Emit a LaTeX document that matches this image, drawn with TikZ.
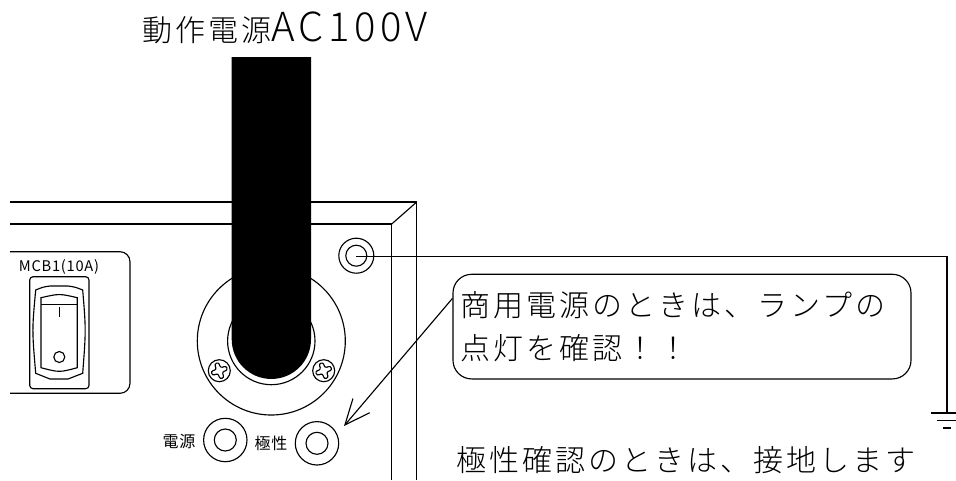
\documentclass[tikz,border=0pt]{standalone}
\usepackage{fontspec}
\usetikzlibrary{arrows.meta,positioning,calc}
\newfontfamily\jpfont[LetterSpace=10]{Noto Sans CJK JP Light}
\newfontfamily\jplatin[LetterSpace=11.2]{Noto Sans CJK JP Light}
\newfontfamily\jpsmall[LetterSpace=5]{Noto Sans CJK JP}
\newcommand{\bang}{\symbol{"FF01}}
\tikzset{
    wire/.style = {line width=0.85pt, black},
    notebox/.style = {draw, line width=0.85pt, rounded corners=14pt, minimum width=343.5pt, minimum height=78.5pt, text width=332pt, inner sep=0pt, align=left},
    bigtext/.style = {font=\jpfont\fontsize{22.5pt}{32pt}\selectfont, inner sep=0pt},
    smalltext/.style = {font=\jpsmall\fontsize{12pt}{12pt}\selectfont, inner sep=0pt},
}
\begin{document}
\begin{tikzpicture}[x=0.75pt, y=-0.75pt, wire]
    \useasboundingbox (0, 0) rectangle (956, 480);
    % PANEL
    \draw (10, 202) -- (416.7, 202) -- (416.7, 480);
    \draw (10, 224) -- (391.7, 224) -- (391.7, 480);
    \draw (391.7, 224) -- (416.7, 202);
    % BREAKER PANEL
    \draw[rounded corners=7.5pt] (10, 251.7) -- (130, 251.7) -- (130, 393.3) -- (10, 393.3);
    \node[font=\jpsmall\fontsize{11pt}{12pt}\selectfont, inner sep=0pt] (mcb) at (59, 267) {MCB1(10A)};
    \draw[rounded corners=2.5pt] (29.7, 276.7) rectangle (89, 388.7);
    \draw (35.7, 290) .. controls (43, 287) .. (50, 286) -- (68, 286) .. controls (75, 287) .. (82.7, 290) .. controls (86, 330) .. (82.7, 373.3) .. controls (75, 377) .. (68, 379) -- (50, 379) .. controls (43, 377) .. (35.7, 373.3) .. controls (32, 330) .. cycle;
    \draw (41, 297.7) .. controls (59.3, 293.5) .. (77.3, 297.7) -- (77.3, 367.7) .. controls (59.3, 372.5) .. (41, 367.7) -- cycle;
    \draw (41, 304.3) -- (77.3, 304.3);
    \draw (59.3, 306.7) -- (59.3, 316.7);
    \draw (59.3, 357) circle (5.5);
    % FLANGE
    \draw (271.3, 341) circle (74);
    \draw (271.3, 341) circle (43.7);
    \foreach \x in {219.3, 323.7} {
        \draw (\x, 370.7) circle (11);
        \draw[rounded corners=1.5pt, rotate around={20:(\x, 370.7)}] (\x, 370.7) ++(-2.2, -8) -- ++(4.4, 0) -- ++(0, 5.8) -- ++(5.8, 0) -- ++(0, 4.4) -- ++(-5.8, 0) -- ++(0, 5.8) -- ++(-4.4, 0) -- ++(0, -5.8) -- ++(-5.8, 0) -- ++(0, -4.4) -- ++(5.8, 0) -- cycle;
    }
    % CABLE
    \fill[black] (231.7, 57) -- (311, 57) -- (311, 339.3) arc (0:180:39.65) -- cycle;
    \node[bigtext, anchor=west] (power) at (141.7, 28) {動作電源{\jplatin\fontsize{30pt}{32pt}\selectfont AC100V}};
    % TERMINALS
    \draw (356.3, 255.7) circle (17.5);
    \draw (356.3, 255.7) circle (10.5);
    \coordinate (earth) at (356.3, 256.7);
    \foreach \x/\y in {225.3/440, 317/443.3} {
        \draw (\x, \y) circle (21.7);
        \draw (\x, \y) circle (11);
    }
    \node[smalltext] (dengen) at (179, 441) {電源};
    \node[smalltext] (kyokusei) at (271, 443) {極性};
    % GROUND
    \coordinate (ground) at (947, 413);
    \draw (earth) -| (ground);
    \draw (931, 413) -- (956, 413);
    \draw (936.7, 420.7) -- (956, 420.7);
    \draw (943, 428) -- (951, 428);
    % NOTES
    \node[notebox, bigtext, inner sep=0pt] (note) at (682, 326.6) {商用電源のときは、ランプの\\点灯を確認\bang\bang};
    \coordinate (polarity) at (344, 426);
    \draw[-{Straight Barb[length=19pt, width=16.5pt]}] (note.173) -- (polarity);
    \node[bigtext, anchor=west] (check) at (456, 460) {極性確認のときは、接地します};
\end{tikzpicture}
\end{document}
